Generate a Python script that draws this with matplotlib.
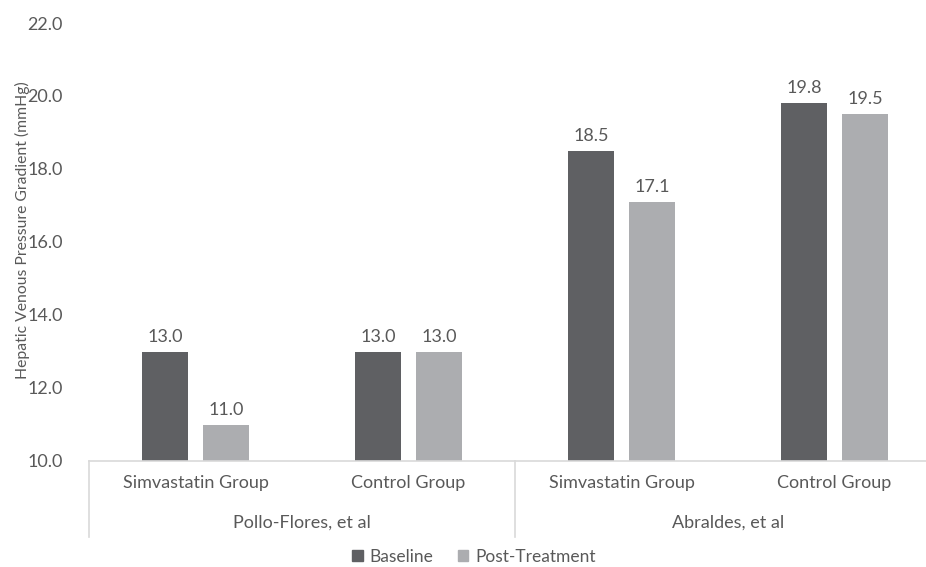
import matplotlib.pyplot as plt
from matplotlib.patches import Patch
from matplotlib.transforms import blended_transform_factory
import numpy as np

plt.rcParams['font.family'] = ['Lato', 'DejaVu Sans']

# chart data
studies = ["Pollo-Flores, et al", "Abraldes, et al"]
groups = ["Simvastatin Group", "Control Group", "Simvastatin Group", "Control Group"]
baseline = [13.0, 13.0, 18.5, 19.8]
post_treatment = [11.0, 13.0, 17.1, 19.5]
series_names = ["Baseline", "Post-Treatment"]
y_ticks = [10, 12, 14, 16, 18, 20, 22]

DARK = "#5f6063"
LIGHT = "#acadb0"
TEXT = "#595959"
LINE = "#d9d9d9"

W, H = 926, 567
fig = plt.figure(figsize=(W / 100, H / 100), dpi=100)
# axes placed in pixel terms, right edge runs past the crop like the original
ax = fig.add_axes([89 / W, 1 - 461 / H, (941 - 89) / W, (461 - 23) / H])

x = np.arange(len(groups))
bw = 0.22
off = 0.143
b1 = ax.bar(x - off, baseline, bw, color=DARK, label=series_names[0])
b2 = ax.bar(x + off, post_treatment, bw, color=LIGHT, label=series_names[1])
for bars in (b1, b2):
    ax.bar_label(bars, fmt="%.1f", padding=5, fontsize=13, color=TEXT)

ax.set_xlim(-0.5, len(groups) - 0.5)
ax.set_ylim(10, 22)
ax.set_yticks(y_ticks)
ax.set_yticklabels([f"{v:.1f}" for v in y_ticks])
ax.set_xticks(x)
ax.set_xticklabels(groups)
ax.tick_params(axis="both", length=0, labelsize=13, labelcolor=TEXT)
ax.tick_params(axis="x", pad=10)
ax.tick_params(axis="y", pad=19)

for side in ("top", "right", "left"):
    ax.spines[side].set_visible(False)
ax.spines["bottom"].set_color(LINE)
ax.spines["bottom"].set_linewidth(1.2)

# y title placed by hand, it sits a bit above the axes middle in the original
fig.text(22 / W, 1 - 230 / H, "Hepatic Venous Pressure Gradient (mmHg)", rotation=90,
         ha="center", va="center", fontsize=11.3, color=TEXT)

# multi-level category axis: separators and study labels
trans = blended_transform_factory(ax.transData, ax.transAxes)
low = (461 - 537) / (461 - 23)
for xs in (-0.5, 1.5, 3.5):
    ax.plot([xs, xs], [0, low], transform=trans, color=LINE, lw=1.2, clip_on=False)
for i, name in enumerate(studies):
    ax.text(2 * i + 0.5, (461 - 523) / (461 - 23), name, transform=trans,
            ha="center", va="center", fontsize=13, color=TEXT)

handles = [Patch(color=DARK), Patch(color=LIGHT)]
fig.legend(handles, series_names, loc="center", bbox_to_anchor=(474 / W, 1 - 557 / H),
           ncol=2, frameon=False, fontsize=12.5, labelcolor=TEXT,
           handlelength=0.6, handleheight=0.6, handletextpad=0.4, columnspacing=1.4)

fig.savefig("out.png", dpi=100)
